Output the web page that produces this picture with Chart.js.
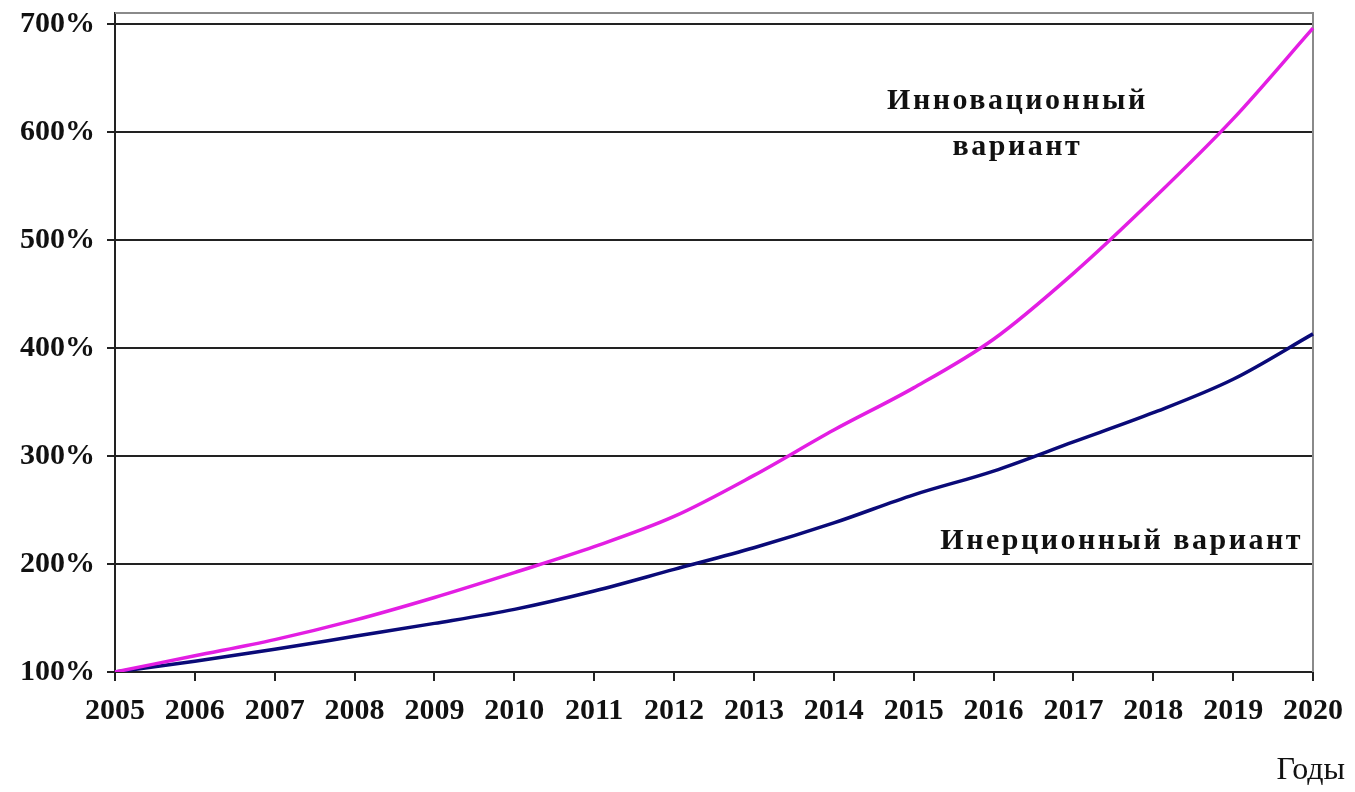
<!doctype html>
<html lang="ru">
  <head>
    <meta charset="utf-8">
    <title>Инновационный и инерционный варианты</title>
    <style>
      * {
        margin: 0;
        padding: 0;
      }
      body {
        background: white;
      }
      .chartBox {
        width: 1355px;
        height: 792px;
      }
    </style>
  </head>
  <body>
    <div class="chartBox">
      <canvas id="myChart"></canvas>
    </div>

    <script src="https://cdn.jsdelivr.net/npm/chart.js"></script>
    <script>
    // data, % of 2005 level
    const years = ['2005','2006','2007','2008','2009','2010','2011','2012',
                   '2013','2014','2015','2016','2017','2018','2019','2020'];
    const innovation = [100, 115, 130, 148, 169, 192, 216, 244, 282, 324, 363, 408, 469, 538, 612, 696];
    const inertial   = [100, 110, 121, 133, 145, 158, 175, 195, 215, 238, 264, 286, 313, 340, 371, 413];
    const yTicks = [100, 200, 300, 400, 500, 600, 700];

    const seriesLabels = ['Инновационный вариант', 'Инерционный вариант'];
    const axisTitle = 'Годы';

    // text labels + gray frame on top/right
    const annotations = {
      id: 'annotations',
      beforeDatasetsDraw(chart) {
        const ctx = chart.ctx;
        const a = chart.chartArea;
        ctx.save();
        ctx.strokeStyle = '#8a8a8a';
        ctx.lineWidth = 2;
        ctx.beginPath();
        ctx.moveTo(a.left, a.top);
        ctx.lineTo(a.right, a.top);
        ctx.lineTo(a.right, a.bottom);
        ctx.stroke();
        ctx.restore();
      },
      afterDraw(chart) {
        const ctx = chart.ctx;
        const x = chart.scales.x;
        const y = chart.scales.y;
        ctx.save();
        ctx.fillStyle = '#111';
        ctx.textAlign = 'center';
        ctx.textBaseline = 'middle';
        ctx.font = 'bold 30px "Liberation Serif"';
        ctx.letterSpacing = '2.5px';
        const cx = (x.getPixelForValue(11) + x.getPixelForValue(12)) / 2 - 16;
        ctx.fillText('Инновационный', cx, y.getPixelForValue(628));
        ctx.fillText('вариант', cx, y.getPixelForValue(586));
        ctx.textAlign = 'right';
        ctx.fillText('Инерционный вариант', x.getPixelForValue(15) - 10, y.getPixelForValue(221));
        ctx.letterSpacing = '0px';
        ctx.font = '32px "Liberation Serif"';
        ctx.fillText(axisTitle, chart.width - 10, 771);
        ctx.restore();
      }
    };

    const data = {
      labels: years,
      datasets: [{
        label: seriesLabels[0],
        data: innovation,
        borderColor: '#e31ee3',
        borderWidth: 3.5,
        pointRadius: 0,
        cubicInterpolationMode: 'monotone'
      }, {
        label: seriesLabels[1],
        data: inertial,
        borderColor: '#0a0a78',
        borderWidth: 3.5,
        pointRadius: 0,
        cubicInterpolationMode: 'monotone'
      }]
    };

    const config = {
      type: 'line',
      data,
      plugins: [annotations],
      options: {
        responsive: false,
        animation: false,
        layout: {
          padding: { top: 13, right: 42, left: 0, bottom: 0 }
        },
        plugins: {
          legend: { display: false },
          tooltip: { enabled: false }
        },
        scales: {
          x: {
            offset: false,
            grid: {
              drawOnChartArea: false,
              drawTicks: true,
              tickLength: 9,
              color: '#222',
              lineWidth: 2
            },
            border: { color: '#222', width: 2 },
            ticks: {
              autoSkip: false,
              maxRotation: 0,
              padding: 12,
              color: '#111',
              font: { family: 'Liberation Serif', size: 30, weight: 'bold' }
            },
            afterFit(scale) { scale.height = 120; }
          },
          y: {
            min: 100,
            max: 710,
            afterBuildTicks(scale) {
              scale.ticks = yTicks.map(v => ({ value: v }));
            },
            grid: {
              color: '#222',
              lineWidth: 2,
              drawTicks: true,
              tickLength: 8
            },
            border: { color: '#222', width: 2 },
            ticks: {
              padding: 12,
              color: '#111',
              font: { family: 'Liberation Serif', size: 30, weight: 'bold' },
              callback: v => v + '%'
            },
            afterFit(scale) {
              scale.width = 115;
              scale.paddingTop = 0;
              scale.paddingBottom = 0;
            }
          }
        }
      }
    };

    const canvas = document.getElementById('myChart');
    canvas.width = 1355;
    canvas.height = 792;
    const myChart = new Chart(canvas, config);
    </script>
  </body>
</html>
